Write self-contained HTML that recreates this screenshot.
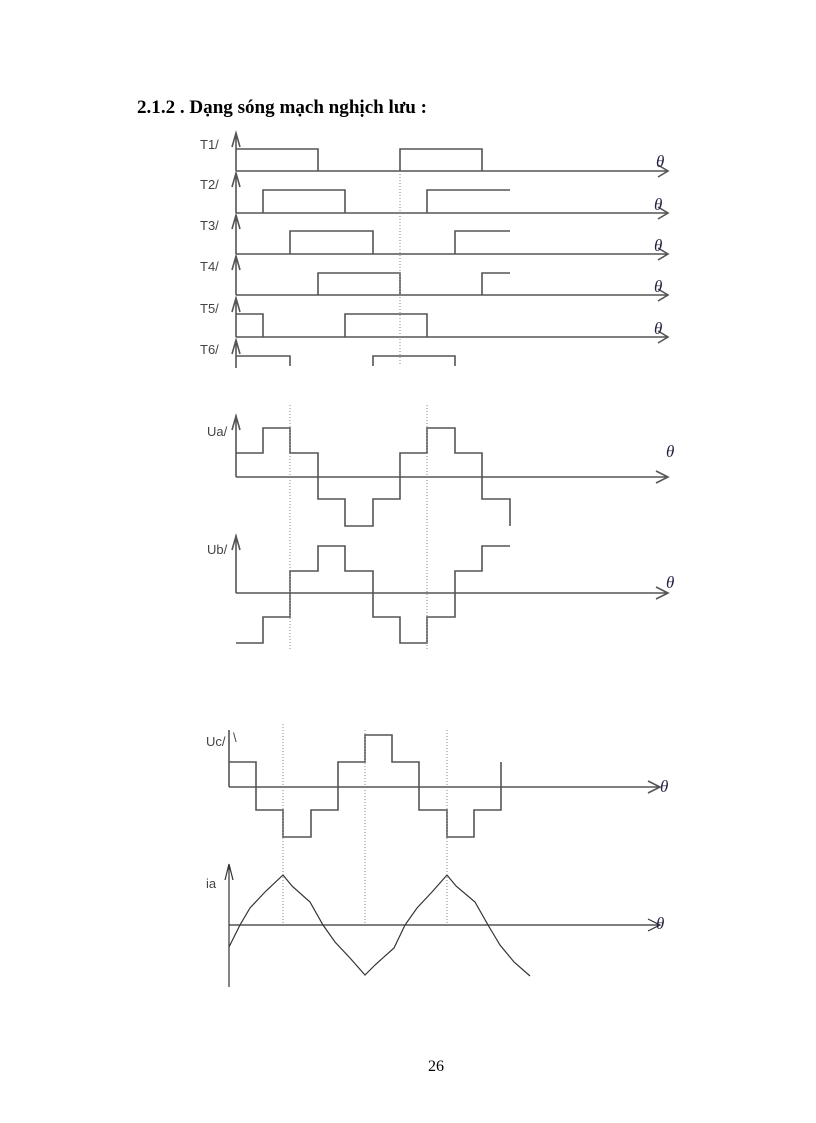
<!DOCTYPE html>
<html><head><meta charset="utf-8"><style>
body{margin:0;background:#fff;width:816px;height:1123px;overflow:hidden}
svg{position:absolute;left:0;top:0}
.t{font-family:"Liberation Sans",sans-serif;font-size:13px;fill:#444}
.th{font-family:"Liberation Serif",serif;font-style:italic;font-size:17px;fill:#224}
</style></head><body>
<svg width="816" height="1123" viewBox="0 0 816 1123">
<text x="137" y="113" font-family="Liberation Serif,serif" font-weight="bold" font-size="19" fill="#000" textLength="290" lengthAdjust="spacingAndGlyphs">2.1.2 . Dạng sóng mạch nghịch lưu :</text>
<text x="436" y="1071" font-family="Liberation Serif,serif" font-size="16" fill="#000" text-anchor="middle">26</text>
<g stroke="#555" stroke-width="1.6" fill="none">
<path d="M236 171H668M658 165l10 6-10 6M236 171V133M232 147l4-14 4 14"/>
<path d="M236 213H668M658 207l10 6-10 6M236 213V173M232 187l4-14 4 14"/>
<path d="M236 254H668M658 248l10 6-10 6M236 254V215M232 229l4-14 4 14"/>
<path d="M236 295H668M658 289l10 6-10 6M236 295V256M232 270l4-14 4 14"/>
<path d="M236 337H668M658 331l10 6-10 6M236 337V298M232 312l4-14 4 14"/>
<path d="M236 368V340M232 354l4-14 4 14"/>
<path d="M236 149H318V171M400 171V149H482V171"/>
<path d="M263 213V190H345V213M427 213V190H510"/>
<path d="M290 254V231H373V254M455 254V231H510"/>
<path d="M318 295V273H400V295M482 295V273H510"/>
<path d="M236 314H263V337M345 337V314H427V337"/>
<path d="M236 356H290V366M373 366V356H455V366"/>
</g>
<path d="M400 171V366" stroke="#888" stroke-width="1" stroke-dasharray="1,2"/>
<g class="t"><text x="200" y="149">T1/</text><text x="200" y="189">T2/</text><text x="200" y="230">T3/</text><text x="200" y="271">T4/</text><text x="200" y="313">T5/</text><text x="200" y="354">T6/</text></g>
<g class="th"><text x="656" y="167">θ</text><text x="654" y="210">θ</text><text x="654" y="251">θ</text><text x="654" y="292">θ</text><text x="654" y="334">θ</text></g>

<g stroke="#555" stroke-width="1.6" fill="none">
<path d="M236 477H668M656 471l12 6-12 6M236 477V415M232 430l4-14 4 14"/>
<path d="M236 453H263V428H290V453H318V499H345V526H373V499H400V453H427V428H455V453H482V499H510V526"/>
<path d="M236 593H668M656 587l12 6-12 6M236 593V535M232 550l4-14 4 14"/>
<path d="M236 643H263V617H290V571H318V546H345V571H373V617H400V643H427V617H455V571H482V546H510"/>
</g>
<path d="M290 405V650M427 405V650" stroke="#888" stroke-width="1" stroke-dasharray="1,2"/>
<g class="t"><text x="207" y="436">Ua/</text><text x="207" y="554">Ub/</text></g>
<g class="th"><text x="666" y="457">θ</text><text x="666" y="588">θ</text></g>

<g stroke="#555" stroke-width="1.6" fill="none">
<path d="M229 787H660M648 781l12 6-12 6M229 787V730"/>
<path d="M229 762H256V810H283V837H311V810H338V762H365V735H392V762H419V810H447V837H474V810H501V762M501 810V787"/>
</g>
<g stroke="#333" stroke-width="1.2" fill="none">
<path d="M229 925H660M648 919l12 6-12 6M229 987V864M225 880l4-16 4 16"/>
<path d="M229 947L240 925L250 908L265 892L283 875L292 886L310 902L323 925L335 942L350 958L365 975L375 965L394 948L405 925L417 908L432 892L447 875L456 886L475 902L488 925L500 945L514 962L530 976"/>
</g>
<path d="M283 724V925M365 730V925M447 730V925" stroke="#888" stroke-width="1" stroke-dasharray="1,2"/>
<g class="t"><text x="206" y="746">Uc/</text><text x="233" y="742">\</text><text x="206" y="888">ia</text></g>
<g class="th"><text x="660" y="792">θ</text><text x="656" y="929">θ</text></g>
</svg>
</body></html>
